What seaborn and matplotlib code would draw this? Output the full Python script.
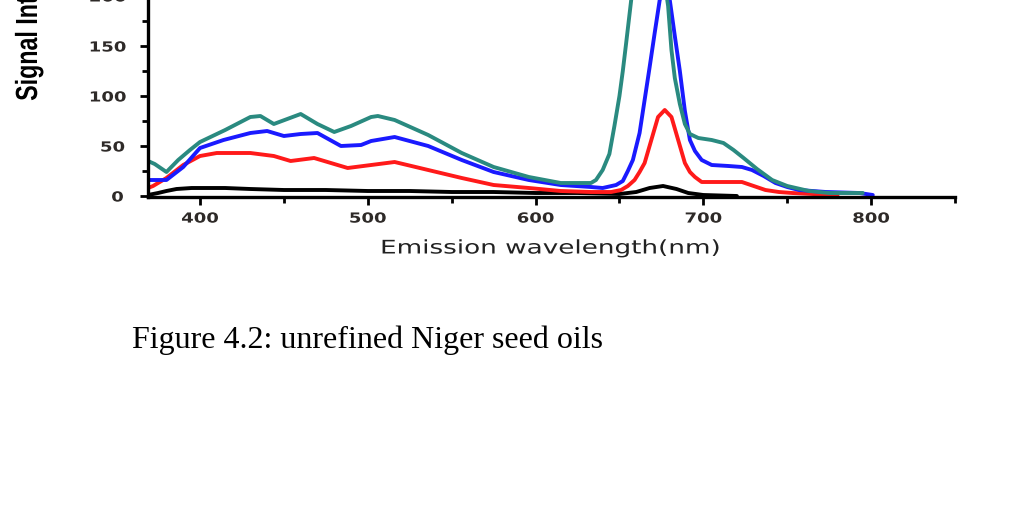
import numpy as np
import pandas as pd
import matplotlib
matplotlib.use('Agg')
import matplotlib.pyplot as plt
import seaborn as sns
from matplotlib import patheffects
from matplotlib.transforms import Affine2D
from matplotlib.ticker import MultipleLocator, FixedLocator

# Emission spectra (wavelength in nm, signal in a.u.)
wl_black = [369, 375, 380, 386, 395, 400, 415, 430, 450, 475, 500, 525, 550, 575,
            600, 625, 650, 660, 668, 676, 684, 691, 700, 720]
sig_black = [1, 3, 5, 7, 8, 8, 8, 7, 6, 6, 5, 5, 4, 4,
             3, 3, 2, 4, 8, 10, 7, 3, 1, 0]

wl_red = [369, 372, 380, 390, 400, 410, 430, 444, 454, 468, 478, 488, 502, 516,
          536, 556, 575, 596, 615, 633, 645, 651, 655, 659, 662, 665, 669, 673,
          677, 681, 685, 689, 692, 695, 699, 710, 723, 730, 737, 745, 753, 765, 780]
sig_red = [8, 10, 18, 31, 40, 43, 43, 40, 35, 38, 33, 28, 31, 34,
           26, 18, 11, 8, 5, 4, 4, 6, 10, 16, 24, 33, 56, 79,
           86, 79, 56, 33, 24, 19, 14, 14, 14, 10, 6, 4, 3, 2, 1]

wl_blue = [369, 380, 390, 400, 414, 430, 440, 450, 460, 470, 484, 496, 502, 516,
           536, 556, 575, 596, 615, 633, 640, 648, 652, 655, 658, 662, 665, 668,
           671, 674, 677, 680, 683, 686, 689, 692, 695, 699, 705, 715, 723, 729,
           736, 743, 750, 757, 773, 793, 801]
sig_blue = [16, 16, 29, 48, 56, 63, 65, 60, 62, 63, 50, 51, 55, 59,
            50, 36, 24, 16, 11, 9, 8, 11, 15, 25, 36, 63, 96, 129,
            163, 196, 207, 196, 160, 125, 85, 56, 45, 36, 31, 30, 29, 26,
            20, 13, 9, 6, 4, 3, 1]

wl_teal = [369, 373, 380, 387, 394, 400, 415, 430, 436, 444, 452, 460, 470, 480,
           490, 502, 506, 516, 536, 556, 575, 596, 615, 633, 636, 640, 644, 647,
           650, 652, 654, 657, 660, 664, 668, 672, 676, 679, 681, 683, 686, 689,
           692, 697, 705, 712, 718, 724, 732, 741, 750, 763, 775, 795]
sig_teal = [35, 32, 24, 36, 46, 54, 66, 79, 80, 72, 77, 82, 72, 64,
            70, 79, 80, 76, 61, 43, 29, 19, 13, 13, 16, 26, 42, 70,
            100, 125, 153, 196, 235, 268, 275, 262, 225, 190, 146, 118, 92, 72,
            62, 58, 56, 53, 46, 38, 27, 16, 10, 5, 3, 3]

samples = ['S1', 'S2', 'S3', 'S4']
colors = ['#000000', '#ff1a1a', '#1a1aff', '#2a8a80']
y_ticks = [0, 50, 100, 150, 200]


class Stretch(patheffects.AbstractPathEffect):
    """Stretch glyphs along the baseline around the text centre."""
    def __init__(self, sx):
        super().__init__()
        self.sx = sx

    def draw_path(self, renderer, gc, tpath, affine, rgbFace=None):
        ext = tpath.get_extents()
        cx = (ext.x0 + ext.x1) / 2
        t = Affine2D().translate(-cx, 0).scale(self.sx, 1).translate(cx, 0)
        renderer.draw_path(gc, tpath, t + affine, rgbFace)


frames = []
for name, wl, sig in zip(samples,
                         [wl_black, wl_red, wl_blue, wl_teal],
                         [sig_black, sig_red, sig_blue, sig_teal]):
    frames.append(pd.DataFrame({'wavelength': wl, 'signal': sig, 'sample': name}))
df = pd.concat(frames, ignore_index=True)

sns.set_style('ticks')
plt.rcParams['font.family'] = ['DejaVu Sans']

fig = plt.figure(figsize=(10.27, 5.29), dpi=100)
ax = fig.add_axes([148 / 1027, (529 - 197) / 529, (955 - 148) / 1027, 301 / 529])

sns.lineplot(data=df, x='wavelength', y='signal', hue='sample',
             palette=dict(zip(samples, colors)), estimator=None, sort=False,
             linewidth=2.8, legend=False, ax=ax)

ax.set_xlim(369, 850)
ax.set_ylim(-1, 300)
ax.xaxis.set_major_locator(MultipleLocator(100))
ax.xaxis.set_minor_locator(MultipleLocator(50))
ax.yaxis.set_major_locator(FixedLocator(y_ticks))
ax.yaxis.set_minor_locator(MultipleLocator(25))
ax.set_xlabel('')
ax.set_ylabel('')
sns.despine(ax=ax)
for side in ['left', 'bottom']:
    ax.spines[side].set_linewidth(2.4)
    ax.spines[side].set_color('black')
ax.tick_params(which='major', length=5.5, width=2, color='black')
ax.tick_params(which='minor', length=4, width=2, color='black')
ax.tick_params(axis='x', which='major', pad=5)
ax.tick_params(axis='y', which='major', pad=13)
for lab in ax.get_xticklabels() + ax.get_yticklabels():
    lab.set_fontsize(10)
    lab.set_fontweight('bold')
    lab.set_color('#2e2a28')
    lab.set_path_effects([Stretch(1.3)])

fig.text(550.5 / 1027, 1 - 248 / 529, 'Emission wavelength(nm)', ha='center',
         va='center', fontsize=13.5, color='#222222', path_effects=[Stretch(1.4)])
# the glyph squeeze pulls the text towards its centre, so start it lower
fig.text(29 / 1027, 1 - 128 / 529, 'Signal Intensity', rotation=90, ha='center',
         va='bottom', fontsize=22, family='Liberation Sans', fontweight='bold',
         color='black', path_effects=[Stretch(0.76)])
fig.text(132 / 1027, 1 - 348 / 529, 'Figure 4.2: unrefined Niger seed oils',
         ha='left', va='baseline', fontsize=23, family='Liberation Serif',
         color='black')

fig.savefig('out.png', dpi=100)
